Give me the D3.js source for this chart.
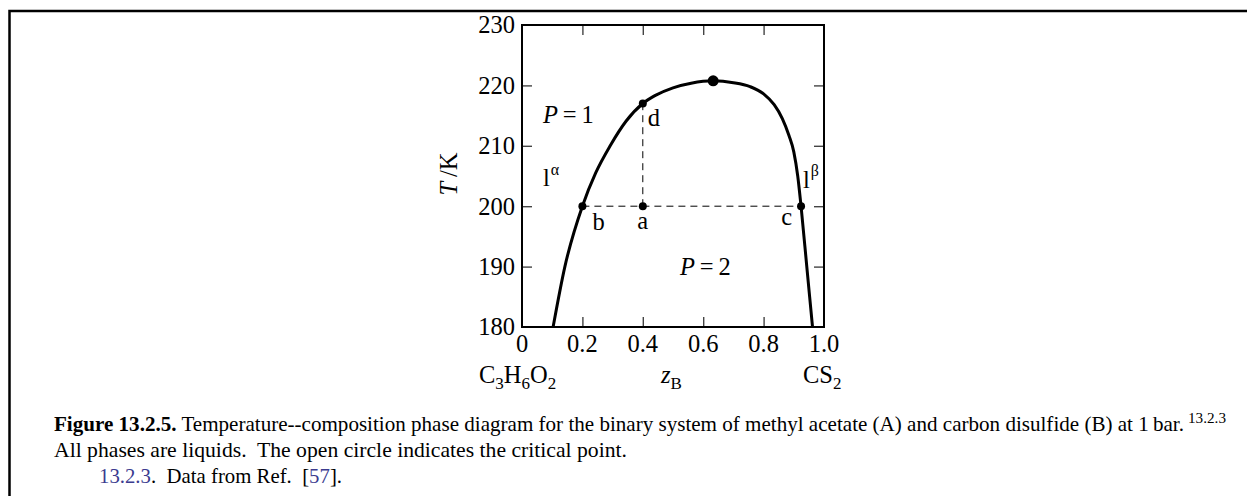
<!DOCTYPE html>
<html><head><meta charset="utf-8">
<script src="https://cdn.jsdelivr.net/npm/d3@7"></script>
<style>
html,body{margin:0;padding:0;background:#fff;}
svg{display:block;}
text{font-family:"Liberation Serif","Times New Roman",serif;fill:#000;}
</style></head>
<body>
<svg id="chart" width="1247" height="496"></svg>
<script>
// ---- data ----
const xTicks = [0, 0.2, 0.4, 0.6, 0.8, 1.0];
const xTickLabels = ["0", "0.2", "0.4", "0.6", "0.8", "1.0"];
const yTicks = [180, 190, 200, 210, 220, 230];
const yTickLabels = ["180", "190", "200", "210", "220", "230"];
// coexistence curve (z_B, T/K)
const curveZ = [0.103, 0.142, 0.200, 0.244, 0.292, 0.345, 0.400, 0.440, 0.500, 0.560, 0.633, 0.700, 0.755, 0.800, 0.835, 0.862, 0.884, 0.900, 0.913, 0.924, 0.943, 0.962];
const curveT = [180, 190, 200, 205.5, 210, 214.1, 217, 218.3, 219.6, 220.35, 220.75, 220.45, 219.8, 218.6, 216.8, 214.5, 211.7, 209, 205, 200, 190, 180];
// labelled state points
const pointNames = ["b", "a", "c", "d"];
const pointZ = [0.2, 0.4, 0.924, 0.4];
const pointT = [200, 200, 200, 217];
const criticalZ = 0.633, criticalT = 220.75;

const svg = d3.select("#chart");
const X0 = 522, X1 = 824, Y0 = 25, Y1 = 327;
const x = d3.scaleLinear().domain([0, 1]).range([X0, X1]);
const y = d3.scaleLinear().domain([180, 230]).range([Y1, Y0]);

// outer frame (top + left)
svg.append("path").attr("d", "M9.5,496 V11 H1247").attr("fill", "none").attr("stroke", "#000").attr("stroke-width", 2.5);

// ticks (inward, all sides)
const tickLen = 10, tickCol = "#444";
const g = svg.append("g");
const inner = xTicks.slice(1, -1), innerY = yTicks.slice(1, -1);
function styleAxis(a) { a.select(".domain").remove(); a.selectAll("line").attr("stroke", tickCol).attr("stroke-width", 1.4); }
g.append("g").attr("transform", `translate(0,${Y1})`).call(d3.axisTop(x).tickValues(inner).tickSize(tickLen).tickFormat("")).call(styleAxis);
g.append("g").attr("transform", `translate(0,${Y0})`).call(d3.axisBottom(x).tickValues(inner).tickSize(tickLen).tickFormat("")).call(styleAxis);
g.append("g").attr("transform", `translate(${X0},0)`).call(d3.axisRight(y).tickValues(innerY).tickSize(tickLen).tickFormat("")).call(styleAxis);
g.append("g").attr("transform", `translate(${X1},0)`).call(d3.axisLeft(y).tickValues(innerY).tickSize(tickLen).tickFormat("")).call(styleAxis);

// tick labels
const fs = 24.5;
svg.append("g").selectAll("text").data(xTicks).join("text")
  .attr("x", d => x(d)).attr("y", 352).attr("text-anchor", "middle").attr("font-size", fs)
  .text((d, i) => xTickLabels[i]);
svg.append("g").selectAll("text").data(yTicks).join("text")
  .attr("x", 515).attr("y", d => y(d) + 8.3).attr("text-anchor", "end").attr("font-size", fs)
  .text((d, i) => yTickLabels[i]);

// clip for the curve
svg.append("clipPath").attr("id", "clip").append("rect").attr("x", X0).attr("y", Y0).attr("width", X1 - X0).attr("height", Y1 - Y0);

// dashed tie line and vertical
svg.append("line").attr("x1", x(pointZ[0])).attr("x2", x(pointZ[2])).attr("y1", y(200)).attr("y2", y(200))
  .attr("stroke", "#000").attr("stroke-width", 1).attr("stroke-dasharray", "7,5");
svg.append("line").attr("x1", x(pointZ[3])).attr("x2", x(pointZ[3])).attr("y1", y(pointT[1])).attr("y2", y(pointT[3]))
  .attr("stroke", "#000").attr("stroke-width", 1).attr("stroke-dasharray", "7,5");

// curve
const pts = curveZ.map((z, i) => [z, curveT[i]]);
svg.append("path").datum(pts).attr("clip-path", "url(#clip)")
  .attr("d", d3.line().x(d => x(d[0])).y(d => y(d[1])).curve(d3.curveMonotoneX))
  .attr("fill", "none").attr("stroke", "#000").attr("stroke-width", 3);

// frame
svg.append("rect").attr("x", X0).attr("y", Y0).attr("width", X1 - X0).attr("height", Y1 - Y0)
  .attr("fill", "none").attr("stroke", "#000").attr("stroke-width", 2);

// points
svg.append("g").selectAll("circle").data(pointZ).join("circle")
  .attr("cx", d => x(d)).attr("cy", (d, i) => y(pointT[i])).attr("r", 4).attr("fill", "#000");
svg.append("circle").attr("cx", x(criticalZ)).attr("cy", y(criticalT)).attr("r", 5.5).attr("fill", "#000");

// in-plot labels
function lab(tx, ty, parts, anchor) {
  const t = svg.append("text").attr("x", tx).attr("y", ty).attr("font-size", fs).attr("text-anchor", anchor || "start");
  parts.forEach(p => {
    const s = t.append("tspan").text(p.t);
    if (p.i) s.attr("font-style", "italic");
    if (p.dy) s.attr("dy", p.dy);
    if (p.fs) s.attr("font-size", p.fs);
    if (p.dx) s.attr("dx", p.dx);
  });
  return t;
}
lab(543, 123, [{t: "P", i: 1}, {t: "\u2009=\u20091"}]);
lab(680, 275, [{t: "P", i: 1}, {t: "\u2009=\u20092"}]);
lab(x(pointZ[0]) + 10, 230, [{t: pointNames[0]}]);
lab(x(pointZ[1]), 229, [{t: pointNames[1]}], "middle");
lab(x(pointZ[2]) - 9, 225, [{t: pointNames[2]}], "end");
lab(x(pointZ[3]) + 5, 126, [{t: pointNames[3]}]);
lab(543, 186, [{t: "l"}, {t: "\u03b1", fs: 16, dy: -11, dx: 1}]);
lab(803, 188, [{t: "l"}, {t: "\u03b2", fs: 16, dy: -12, dx: 1}]);

// axis titles
const sfs = 17;
lab(479, 383, [{t: "C"}, {t: "3", fs: sfs, dy: 6}, {t: "H", dy: -6}, {t: "6", fs: sfs, dy: 6}, {t: "O", dy: -6}, {t: "2", fs: sfs, dy: 6}]);
lab(661, 383, [{t: "z", i: 1}, {t: "B", fs: sfs, dy: 6}]);
lab(803, 383, [{t: "CS"}, {t: "2", fs: sfs, dy: 6}]);
svg.append("text").attr("transform", "translate(457,174) rotate(-90)").attr("text-anchor", "middle").attr("font-size", fs)
  .call(t => { t.append("tspan").attr("font-style", "italic").text("T"); t.append("tspan").text("\u2009/K"); });

// caption
const cfs = 21, blue = "#3b3b8f";
const c1 = svg.append("text").attr("x", 54).attr("y", 431).attr("font-size", cfs)
  .attr("textLength", 1130).attr("lengthAdjust", "spacingAndGlyphs");
c1.append("tspan").attr("font-weight", "bold").text("Figure 13.2.5.");
c1.append("tspan").text(" Temperature--composition phase diagram for the binary system of methyl acetate (A) and carbon disulfide (B) at 1\u2009bar.");
svg.append("text").attr("x", 1188).attr("y", 423).attr("font-size", 14).attr("fill", blue)
  .attr("textLength", 38).attr("lengthAdjust", "spacingAndGlyphs").text("13.2.3");
svg.append("text").attr("x", 54).attr("y", 457).attr("font-size", cfs).attr("xml:space", "preserve")
  .attr("textLength", 573).attr("lengthAdjust", "spacingAndGlyphs")
  .text("All phases are liquids.  The open circle indicates the critical point.");
const c3 = svg.append("text").attr("x", 99).attr("y", 483).attr("font-size", cfs).attr("xml:space", "preserve")
  .attr("textLength", 243).attr("lengthAdjust", "spacingAndGlyphs");
c3.append("tspan").attr("fill", blue).text("13.2.3");
c3.append("tspan").text(".  Data from Ref.  [");
c3.append("tspan").attr("fill", blue).text("57");
c3.append("tspan").text("].");
</script>
</body></html>
